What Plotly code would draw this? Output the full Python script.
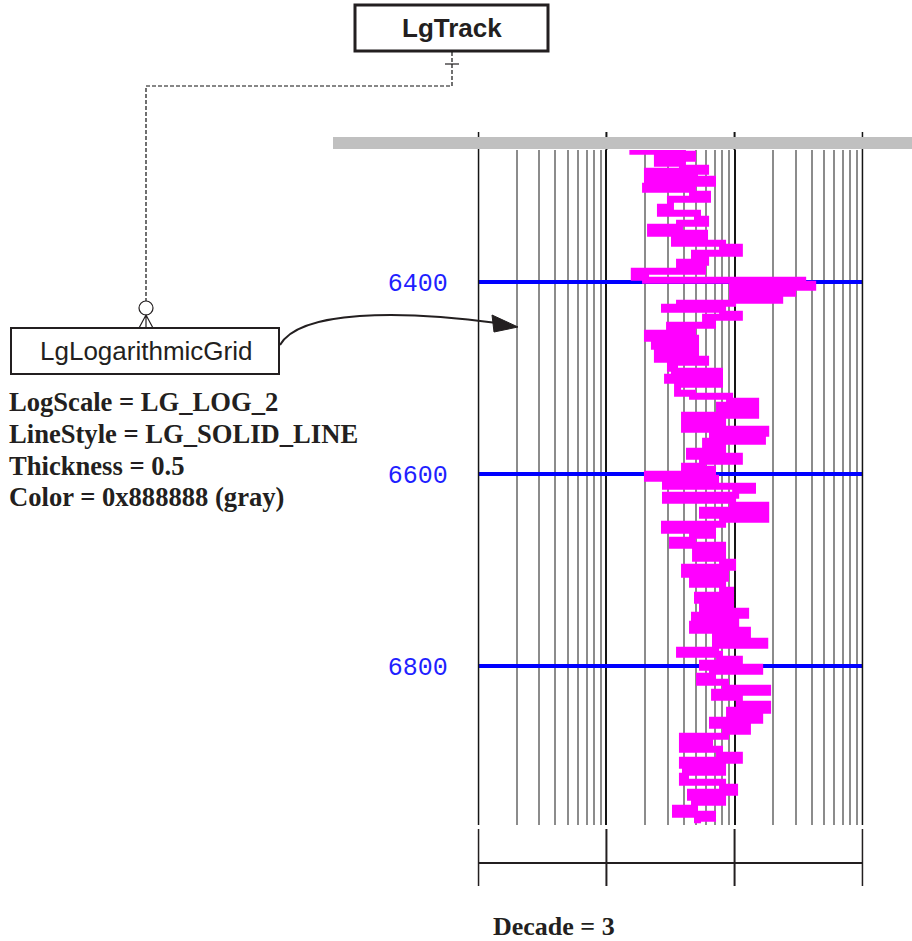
import plotly.graph_objects as go
import numpy as np

# ---------------- data ----------------
DEPTH = [6263.5, 6266.7, 6270.8, 6276.0, 6281.3, 6284.4, 6289.6, 6292.7, 6296.9, 6300.0,
         6303.1, 6308.3, 6313.5, 6321.9, 6328.1, 6334.4, 6338.5, 6342.7, 6349.0, 6355.2,
         6359.4, 6363.5, 6369.8, 6376.0, 6379.2, 6383.3, 6388.5, 6394.8, 6397.9, 6402.1,
         6405.2, 6408.3, 6411.5, 6415.6, 6418.8, 6421.9, 6426.0, 6428.1, 6433.3, 6436.5,
         6441.7, 6444.8, 6449.0, 6453.1, 6458.3, 6462.5, 6466.7, 6474.0, 6480.2, 6483.3,
         6489.6, 6492.7, 6499.0, 6502.1, 6506.3, 6515.6, 6518.8, 6524.0, 6528.1, 6533.3,
         6538.5, 6542.7, 6547.9, 6553.1, 6557.3, 6562.5, 6565.6, 6569.8, 6576.0, 6581.3,
         6586.5, 6591.7, 6594.8, 6600.0, 6604.2, 6608.3, 6612.5, 6616.7, 6621.9, 6627.1,
         6632.3, 6637.5, 6642.7, 6646.9, 6652.1, 6658.3, 6663.5, 6668.8, 6674.0, 6680.2,
         6687.5, 6691.7, 6696.9, 6704.2, 6708.3, 6714.6, 6720.8, 6726.0, 6731.3, 6737.5,
         6742.7, 6746.9, 6751.0, 6756.3, 6762.5, 6768.8, 6774.0, 6778.1, 6783.3, 6787.5,
         6792.7, 6796.9, 6801.0, 6805.2, 6810.4, 6816.7, 6822.9, 6827.1, 6832.3, 6839.6,
         6845.8, 6852.1, 6856.3, 6861.5, 6867.7, 6872.9, 6877.1, 6882.3, 6886.5, 6892.7,
         6897.9, 6903.1, 6910.4, 6914.6, 6920.8, 6926.0, 6931.3, 6936.5, 6941.7, 6947.9,
         6954.2, 6958.3, 6963.5]

CURVE = [15.1, 39.2, 47.0, 25.0, 39.2, 59.4, 20.9, 48.7, 67.3, 20.9,
         20.2, 47.0, 61.5, 31.6, 26.4, 51.4, 59.4, 37.2, 22.1, 58.3,
         34.0, 80.6, 109, 48.7, 59.4, 37.2, 56.2, 16.5, 20.2, 340,
         407, 96.5, 284, 96.5, 225, 96.5, 37.2, 28.4, 80.6, 109,
         59.4, 67.3, 31.1, 47.0, 20.9, 49.6, 23.7, 49.6, 25.0, 59.4,
         31.6, 34.0, 76.3, 30.0, 76.3, 35.9, 47.0, 91.4, 146, 76.3,
         146, 40.7, 80.6, 40.7, 175, 67.3, 165, 59.4, 80.6, 44.5,
         109, 56.2, 40.7, 67.3, 20.9, 71.0, 28.9, 138, 102, 28.9,
         96.5, 175, 56.2, 175, 80.6, 28.4, 67.3, 47.0, 32.8, 80.6,
         49.6, 80.6, 96.5, 40.7, 85.0, 47.0, 80.6, 93.0, 51.4, 93.0,
         56.2, 122, 48.7, 102, 47.0, 126, 71.0, 172, 71.0, 37.2,
         76.3, 109, 56.2, 157, 67.3, 53.3, 85.0, 181, 69.8, 109,
         181, 91.4, 157, 67.3, 126, 85.0, 39.2, 63.8, 39.2, 76.3,
         109, 39.2, 80.6, 41.4, 39.2, 80.6, 100, 45.3, 80.6, 48.7,
         34.6, 67.3, 51.4]

DECADES = [1, 10, 100, 1000]
MINOR_LINES = [m * d for d in DECADES[:-1] for m in range(2, 10)]
DEPTH_TICKS = [6400, 6600, 6800]
DEPTH_LABELS = ["6400", "6600", "6800"]
PROPERTIES = ["LogScale = LG_LOG_2", "LineStyle = LG_SOLID_LINE",
              "Thickness = 0.5", "Color = 0x888888 (gray)"]
DECADE_TEXT = "Decade = 3"

W, H = 912, 941
DARK = "#231f20"
SERIF = "Liberation Serif, Times New Roman, serif"
SANS = "Liberation Sans, Arial, sans-serif"

TX0, TX1 = 478.3, 862.7
PAD = 0.6
pad_dec = PAD / ((TX1 - TX0) / 3.0)

fig = go.Figure()

fig.add_trace(go.Scatter(
    x=CURVE, y=DEPTH, mode="lines",
    line=dict(color="#ff00ff", width=7, shape="hv"),
    hoverinfo="skip", xaxis="x", yaxis="y"))

fig.update_layout(
    xaxis=dict(type="log",
               range=[np.log10(DECADES[0]) - pad_dec, np.log10(DECADES[-1]) + pad_dec],
               domain=[(TX0 - PAD) / W, (TX1 + PAD) / W], anchor="y",
               tickmode="array", tickvals=DECADES, showticklabels=False, ticks="",
               showgrid=True, gridcolor="#151515", gridwidth=2,
               zeroline=False, showline=False,
               minor=dict(tickmode="array", tickvals=MINOR_LINES, showgrid=True,
                          gridcolor="#8c8c8c", gridwidth=1.6, ticks="")),
    yaxis=dict(range=[6965.3, 6262.2], domain=[116 / H, 791 / H], anchor="x",
               tickmode="array", tickvals=DEPTH_TICKS, ticktext=DEPTH_LABELS,
               ticks="", ticklabelstandoff=29,
               tickfont=dict(family="Liberation Mono, DejaVu Sans Mono, monospace",
                             size=25, color="#1f1fff"),
               showgrid=True, gridcolor="#0000ff", gridwidth=4,
               zeroline=False, showline=False),
    xaxis2=dict(range=[0, W], domain=[0, 1], anchor="y2", visible=False, fixedrange=True),
    yaxis2=dict(range=[H, 0], domain=[0, 1], anchor="x2", visible=False, fixedrange=True),
)

shapes = []

# decade lines: short ticks above the header bar, full-height at the track edges
for i, d in enumerate(DECADES):
    bottom = 825 if i in (0, len(DECADES) - 1) else 150
    shapes.append(dict(type="line", xref="x", yref="y2", x0=d, x1=d, y0=132, y1=bottom,
                       line=dict(color="#151515", width=2)))
# header bar
shapes.append(dict(type="rect", xref="x2", yref="y2", x0=333, x1=912, y0=137, y1=149,
                   fillcolor="#c0c0c0", line=dict(width=0)))
# decade bracket under the track
for d in DECADES:
    shapes.append(dict(type="line", xref="x", yref="y2", x0=d, x1=d, y0=829, y1=886,
                       line=dict(color=DARK, width=2)))
shapes.append(dict(type="line", xref="x", yref="y2", x0=DECADES[0], x1=DECADES[-1],
                   y0=863, y1=863, line=dict(color=DARK, width=2)))

# LgTrack box
shapes.append(dict(type="rect", xref="x2", yref="y2", x0=355, x1=548, y0=5, y1=51,
                   line=dict(color=DARK, width=3), fillcolor="white"))
# LgLogarithmicGrid box
shapes.append(dict(type="rect", xref="x2", yref="y2", x0=11, x1=279, y0=328, y1=374,
                   line=dict(color=DARK, width=2), fillcolor="white"))
# dashed connector
dash = dict(color="#111111", width=1.2, dash="4px,2px")
shapes.append(dict(type="path", xref="x2", yref="y2",
                   path="M 452 52 L 452 86 L 146 86 L 146 301", line=dash))
shapes.append(dict(type="line", xref="x2", yref="y2", x0=445, x1=459, y0=64, y1=64,
                   line=dict(color=DARK, width=1.2)))
# zero-or-many symbol
shapes.append(dict(type="circle", xref="x2", yref="y2", x0=139, x1=153, y0=301, y1=315,
                   line=dict(color=DARK, width=1.2), fillcolor="white"))
shapes.append(dict(type="path", xref="x2", yref="y2",
                   path="M 139 328 L 146 315 L 153 328 M 146 315 L 146 328",
                   line=dict(color=DARK, width=1.2)))
# curved arrow
shapes.append(dict(type="path", xref="x2", yref="y2",
                   path="M 280 345 C 300 310, 400 310, 497 323",
                   line=dict(color=DARK, width=2)))
shapes.append(dict(type="path", xref="x2", yref="y2",
                   path="M 518 327 L 492 315 L 494 332 Z",
                   fillcolor=DARK, line=dict(color=DARK, width=1)))

fig.update_layout(shapes=shapes)

ann = []
ann.append(dict(text="<b>LgTrack</b>", x=451.5, y=28, xref="x2", yref="y2",
                showarrow=False, font=dict(family=SANS, size=26, color=DARK),
                xanchor="center", yanchor="middle"))
ann.append(dict(text="LgLogarithmicGrid", x=145.5, y=351, xref="x2", yref="y2",
                showarrow=False, font=dict(family=SANS, size=26, color=DARK),
                xanchor="center", yanchor="middle"))
for i, t in enumerate(PROPERTIES):
    ann.append(dict(text="<b>" + t + "</b>", x=7, y=402 + i * 31.8, xref="x2", yref="y2",
                    showarrow=False, font=dict(family=SERIF, size=26.6, color=DARK),
                    xanchor="left", yanchor="middle"))
ann.append(dict(text="<b>" + DECADE_TEXT + "</b>", x=554, y=926, xref="x2", yref="y2",
                showarrow=False, font=dict(family=SERIF, size=26, color=DARK),
                xanchor="center", yanchor="middle"))
fig.update_layout(annotations=ann)

fig.update_layout(width=W, height=H, margin=dict(l=0, r=0, t=0, b=0),
                  paper_bgcolor="white", plot_bgcolor="rgba(0,0,0,0)",
                  showlegend=False)

fig.write_html("out.html", config={"displayModeBar": False},
               post_script="document.body.style.margin='0';"
                           "document.body.style.overflow='hidden';")
